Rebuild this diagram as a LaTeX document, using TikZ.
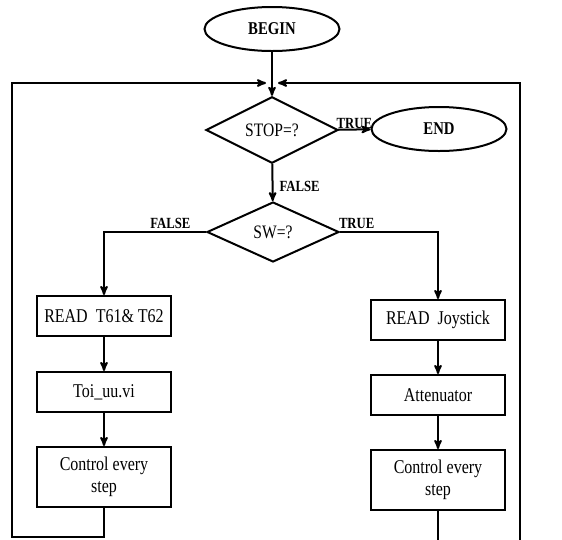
\documentclass[tikz,border=0pt]{standalone}
\usepackage{fontspec}
\setmainfont[FakeStretch=0.82]{Liberation Serif}
\usetikzlibrary{arrows}
\usetikzlibrary{shapes.geometric}

\begin{document}
\begin{tikzpicture}[x=1pt, y=-1pt, line width=2pt, >=stealth',
 term/.style={draw, ellipse, minimum width=135, minimum height=44, inner sep=0, font=\fontsize{18}{20}\selectfont\bfseries},
 test/.style={draw, diamond, minimum width=132, minimum height=60, inner sep=0, font=\fontsize{19}{21}\selectfont},
 box/.style={draw, rectangle, minimum width=134, minimum height=40, inner sep=2, align=center, font=\fontsize{19.5}{22}\selectfont},
 lbl/.style={inner sep=2, font=\fontsize{15.5}{17}\selectfont\bfseries}]
\useasboundingbox (0,0) rectangle (562,539);
\node[term] (begin) at (272,29) {BEGIN};
\node[test] (stop) at (272,130) {STOP=?};
\node[term] (end) at (439,129) {END};
\node[test] (sw) at (273,232) {SW=?};
\node[box] (readT) at (104,316) {READ\ \ T61\& T62};
\node[box] (toi) at (104,392) {Toi\_uu.vi};
\node[box, minimum height=60] (ctrlL) at (104,477) {Control every\\step};
\node[box] (readJ) at (438,320) {READ\ \ Joystick};
\node[box] (att) at (438,395) {Attenuator};
\node[box, minimum height=60] (ctrlR) at (438,480) {Control every\\step};
\coordinate (inL) at (266,83);
\coordinate (inR) at (278,83);
\coordinate (cornL) at (12,537);
\coordinate (cornR) at (520,540);
\draw[->] (begin) -- (stop);
\draw[->] (stop) -- node[lbl, above, yshift=-2]{TRUE} (end);
\draw[->] (stop) -- node[lbl, right, pos=.6, xshift=4]{FALSE} (sw);
\draw[->] (sw.west) -- node[lbl, above, pos=.35]{FALSE} (readT |- sw.west) -- (readT);
\draw[->] (sw.east) -- node[lbl, above, pos=.17]{TRUE} (readJ |- sw.east) -- (readJ);
\draw[->] (readT) -- (toi);
\draw[->] (toi) -- (ctrlL);
\draw[->] (readJ) -- (att);
\draw[->] (att) -- (ctrlR);
\draw[->] (ctrlL) -- (ctrlL |- cornL) -- (cornL) |- (inL);
\draw (ctrlR) -- (ctrlR |- cornR);
\draw[->] (cornR) |- (inR);
\end{tikzpicture}
\end{document}
